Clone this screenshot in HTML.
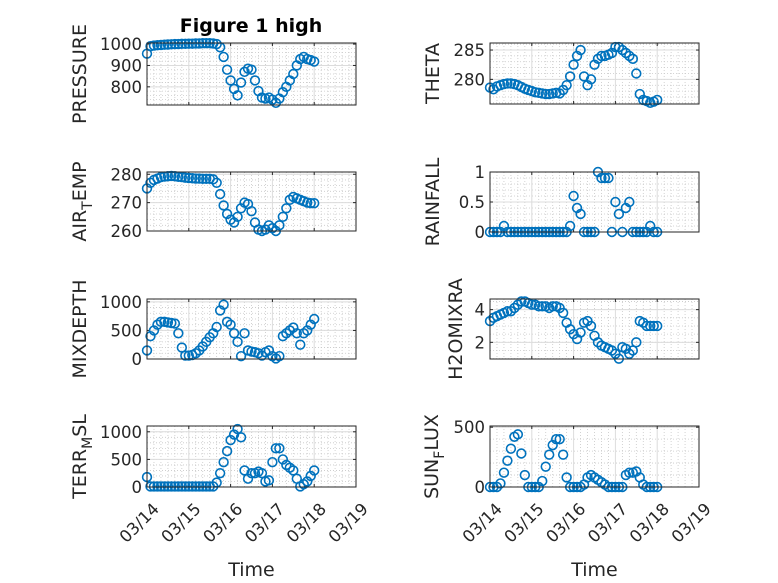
<!DOCTYPE html>
<html><head><meta charset="utf-8">
<style>
html,body{margin:0;padding:0;background:#fff;}
svg{display:block;font-family:"DejaVu Sans","Liberation Sans",sans-serif;}
</style></head>
<body>
<svg id="fig" width="778" height="583" viewBox="0 0 778 583">
<rect width="778" height="583" fill="#fff"/>
<text x="251" y="32" text-anchor="middle" font-size="19" font-weight="bold" fill="#000">Figure 1 high</text>
</svg>
<script>
// time in hours since 03/14 00:00
const timeHours = [0,2,4,6,8,10,12,14,16,18,20,22,24,26,28,30,32,34,36,38,40,42,44,46,48,50,52,54,56,58,60,62,64,66,68,70,72,74,76,78,80,82,84,86,88,90,92,94,96];
const dayTickLabels = ["03/14","03/15","03/16","03/17","03/18","03/19"];
const pressureValues = [955,990,993,995,996,997,998,999,1000,1000,1001,1001,1002,1002,1003,1003,1004,1004,1004,1003,1000,985,940,880,830,790,760,820,870,885,880,830,780,750,745,750,740,725,745,775,800,830,860,900,930,940,930,925,918];
const airTempValues = [275,277,278,278.5,279,279.2,279.3,279.4,279.3,279.1,279,278.8,278.7,278.6,278.5,278.5,278.4,278.4,278.4,278.2,277,273,269,266,264,263,265,268,270,269.5,267,263,260.5,260,260.5,262,261,260,262,265,268,271,272,271.5,271,270.5,270,269.8,269.8];
const mixDepthValues = [150,400,500,600,650,650,640,630,620,450,200,60,60,70,100,150,220,300,380,450,560,850,950,650,600,450,300,50,450,150,130,120,100,60,120,150,50,10,50,400,450,500,550,450,250,450,500,600,700];
const terrMslValues = [180,10,10,10,10,10,10,10,10,10,10,10,10,10,10,10,10,10,10,10,80,250,450,650,850,950,1050,900,300,150,250,250,280,250,100,120,450,700,700,500,400,350,300,150,10,50,100,200,300];
const thetaValues = [278.6,278.3,278.8,279,279.2,279.3,279.3,279.2,279,278.7,278.4,278.2,278,277.8,277.7,277.6,277.5,277.5,277.6,277.7,277.6,278.2,279,280.5,282.5,284,285,280.5,279,280,282.5,283.5,284,284,284.2,284.5,285.5,285.5,285,284.5,284,283.5,281,277.5,276.5,276.3,276,276.2,276.5];
const rainfallValues = [0,0,0,0,0.1,0,0,0,0,0,0,0,0,0,0,0,0,0,0,0,0,0,0,0.1,0.6,0.4,0.3,0,0,0,0,1.0,0.9,0.9,0.9,0,0.5,0.3,0,0.4,0.5,0,0,0,0,0,0.1,0,0];
const h2oValues = [3.3,3.5,3.6,3.7,3.8,3.9,3.9,4.1,4.3,4.5,4.5,4.4,4.3,4.3,4.2,4.2,4.2,4.1,4.2,4.2,4.1,3.8,3.2,2.8,2.5,2.2,2.6,3.2,3.3,3.0,2.4,2.0,1.8,1.7,1.6,1.5,1.3,1.0,1.7,1.6,1.3,1.5,2.0,3.3,3.2,3.0,3.0,3.0,3.0];
const sunFluxValues = [0,0,0,30,120,220,320,420,440,280,100,0,0,0,0,50,170,270,350,400,400,270,80,0,0,0,0,20,80,100,80,60,40,20,0,0,0,0,0,100,120,120,130,80,20,0,0,0,0];
const pressureTicks = [800,900,1000];
const airTempTicks = [260,270,280];
const mixDepthTicks = [0,500,1000];
const terrTicks = [0,500,1000];
const thetaTicks = [280,285];
const rainTicks = [0,0.5,1];
const h2oTicks = [2,4];
const sunTicks = [0,500];

const NS = "http://www.w3.org/2000/svg";
const svg = document.getElementById('fig');
function mk(tag, attrs, parent){
  const e = document.createElementNS(NS, tag);
  for (const k in attrs) e.setAttribute(k, attrs[k]);
  (parent||svg).appendChild(e);
  return e;
}

function panel(cfg){
  const g = mk('g', {});
  
  
  const x0 = cfg.x, x1 = cfg.x + 209, y0 = cfg.y, y1 = cfg.y + cfg.h;
  const xs = h => x0 + (h / 120) * (x1 - x0);
  const ys = v => y1 - (v - cfg.ymin) / (cfg.ymax - cfg.ymin) * (y1 - y0);
  for (let d = 0; d < 5; d++) for (let k = 1; k < 6; k++) {
    const xx = xs(d*24 + k*4);
    const l = mk('line', {x1:xx, x2:xx, y1:y0, y2:y1, stroke:'#c8c8c8', 'stroke-width':0.8, 'stroke-dasharray':'1,2'}, g);
    
    
  }
  const step = cfg.ticks.length > 1 ? cfg.ticks[1] - cfg.ticks[0] : 1;
  const ms = step / cfg.minorDiv;
  for (let v = cfg.ticks[0] - step; v <= cfg.ymax + 1e-9; v += ms) {
    if (v < cfg.ymin - 1e-9) continue;
    const yy = ys(v);
    const l = mk('line', {x1:x0, x2:x1, y1:yy, y2:yy, stroke:'#c8c8c8', 'stroke-width':0.8, 'stroke-dasharray':'1,2'}, g);
    
    
  }
  dayTickLabels.forEach((lab, i) => {
    const xx = xs(i*24);
    const l = mk('line', {x1:xx, x2:xx, y1:y0, y2:y1, stroke:'#dcdcdc', 'stroke-width':1}, g);
    
    
  });
  cfg.ticks.forEach(v => {
    const yy = ys(v);
    const l = mk('line', {x1:x0, x2:x1, y1:yy, y2:yy, stroke:'#dcdcdc', 'stroke-width':1}, g);
    
    
    const t = mk('text', {x:x0-5, y:yy+6, 'text-anchor':'end', 'font-size':16.5, fill:'#262626'}, g);
    t.textContent = String(v);
    
    
    mk('line', {x1:x0, x2:x0+3, y1:yy, y2:yy, stroke:'#262626'}, g);
    mk('line', {x1:x1, x2:x1-3, y1:yy, y2:yy, stroke:'#262626'}, g);
  });
  dayTickLabels.forEach((lab, i) => {
    const xx = xs(i*24);
    mk('line', {x1:xx, x2:xx, y1:y1, y2:y1-3, stroke:'#262626'}, g);
    mk('line', {x1:xx, x2:xx, y1:y0, y2:y0+3, stroke:'#262626'}, g);
    if (cfg.bottom) {
      const ax = xx + 13, ay = y1 + 23;
      const t = mk('text', {x:ax, y:ay, 'text-anchor':'end', 'font-size':16.5, fill:'#262626', transform:'rotate(-45 '+ax+' '+ay+')'}, g);
      t.textContent = lab;
      
      
    }
  });
  cfg.values.forEach((v, i) => {
    const c = mk('circle', {cx:xs(timeHours[i]), cy:ys(v), r:4.4, fill:'none', stroke:'#0072BD', 'stroke-width':1.6}, g);
    
    
  });
  const fr = mk('rect', {x:x0, y:y0, width:x1-x0, height:y1-y0, fill:'none', stroke:'#262626', 'stroke-width':1}, g);
  
  
  const cy = (y0 + y1) / 2;
  const yl = mk('text', {x:cfg.lx, y:cy, 'text-anchor':'middle', 'font-size':19, fill:'#262626', transform:'rotate(-90 '+cfg.lx+' '+cy+')'}, g);
  
  
  if (cfg.sub) {
    const a = mk('tspan', {}, yl); a.textContent = cfg.label[0];
    const b = mk('tspan', {dy:6, 'font-size':14}, yl); b.textContent = cfg.label[1];
    const c = mk('tspan', {dy:-6}, yl); c.textContent = cfg.label[2];
  } else {
    yl.textContent = cfg.label;
  }
  if (cfg.bottom) {
    const t = mk('text', {x:(x0+x1)/2, y:576, 'text-anchor':'middle', 'font-size':19, fill:'#262626'}, g);
    t.textContent = 'Time';
    
    
  }
}

const L = 147, R = 490;
panel({name:'pressure', x:L, y:43, h:62, ymin:715, ymax:1005, ticks:pressureTicks, minorDiv:5, values:pressureValues, label:'PRESSURE', lx:86});
panel({name:'air-temp', x:L, y:172, h:59, ymin:260, ymax:280.8, ticks:airTempTicks, minorDiv:5, values:airTempValues, label:['AIR','T','EMP'], sub:true, lx:86});
panel({name:'mixdepth', x:L, y:299, h:60, ymin:0, ymax:1050, ticks:mixDepthTicks, minorDiv:5, values:mixDepthValues, label:'MIXDEPTH', lx:86});
panel({name:'terr-msl', x:L, y:426, h:61, ymin:0, ymax:1105, ticks:terrTicks, minorDiv:5, values:terrMslValues, label:['TERR','M','SL'], sub:true, lx:86, bottom:true});
panel({name:'theta', x:R, y:43, h:61, ymin:275.8, ymax:286.2, ticks:thetaTicks, minorDiv:5, values:thetaValues, label:'THETA', lx:439});
panel({name:'rainfall', x:R, y:172, h:60, ymin:0, ymax:1, ticks:rainTicks, minorDiv:5, values:rainfallValues, label:'RAINFALL', lx:439});
panel({name:'h2omixra', x:R, y:299, h:60, ymin:0.98, ymax:4.65, ticks:h2oTicks, minorDiv:4, values:h2oValues, label:'H2OMIXRA', lx:462});
panel({name:'sun-flux', x:R, y:426, h:61, ymin:0, ymax:510, ticks:sunTicks, minorDiv:5, values:sunFluxValues, label:['SUN','F','LUX'], sub:true, lx:438, bottom:true});
</script>
</body></html>
